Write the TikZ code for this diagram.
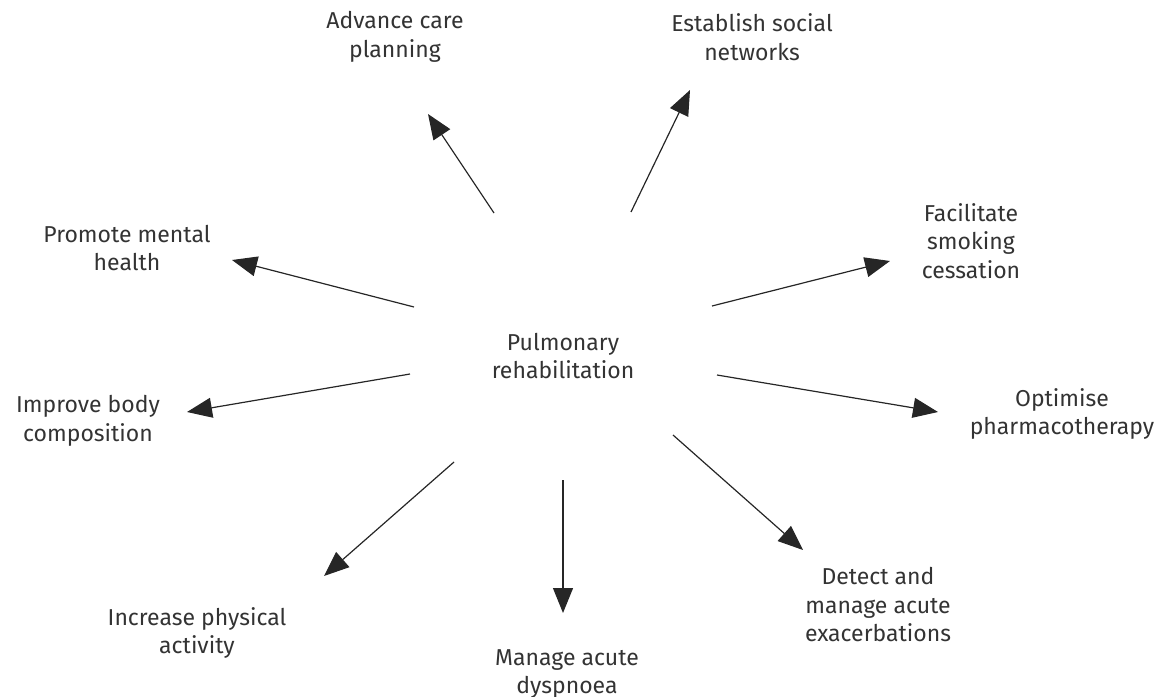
\documentclass[tikz,border=0pt]{standalone}
\usepackage{fontspec}
\setmainfont{Fira Sans}
\usetikzlibrary{arrows.meta}
\definecolor{txt}{HTML}{333333}
\begin{document}
\begin{tikzpicture}[x=1pt,y=-1pt,
  lbl/.style={text=txt,font=\fontsize{23}{28.5}\selectfont,align=center,inner sep=0pt},
  arr/.style={line width=1.2pt,draw=black!85,-{Triangle[length=25pt,width=20pt]}}]
\useasboundingbox (0,0) rectangle (1166,696);
\node[lbl] (c) at (563,356) {Pulmonary\\rehabilitation};
\node[lbl] (acp) at (395,37) {Advance care\\planning};
\node[lbl] (esn) at (752,37) {Establish social\\networks};
\node[lbl] (fsc) at (971,241) {Facilitate\\smoking\\cessation};
\node[lbl] (oph) at (1062,414) {Optimise\\pharmacotherapy};
\node[lbl] (dme) at (878,605) {Detect and\\manage acute\\exacerbations};
\node[lbl] (mad) at (567,674) {Manage acute\\dyspnoea};
\node[lbl] (ipa) at (197,633) {Increase physical\\activity};
\node[lbl] (ibc) at (88,421) {Improve body\\composition};
\node[lbl] (pmh) at (127,248) {Promote mental\\health};
\coordinate (s1) at (494,213); \coordinate (e1) at (428,114);
\coordinate (s2) at (631,212); \coordinate (e2) at (690,90);
\coordinate (s3) at (712,306); \coordinate (e3) at (890,261);
\coordinate (s4) at (717,375); \coordinate (e4) at (938,412);
\coordinate (s5) at (673,435); \coordinate (e5) at (803,550);
\coordinate (s6) at (563,480); \coordinate (e6) at (563,613);
\coordinate (s7) at (454,462); \coordinate (e7) at (324,576);
\coordinate (s8) at (410,374); \coordinate (e8) at (187,412);
\coordinate (s9) at (414,307); \coordinate (e9) at (232,260);
\foreach \i in {1,...,9} {\draw[arr] (s\i) -- (e\i);}
\end{tikzpicture}
\end{document}
